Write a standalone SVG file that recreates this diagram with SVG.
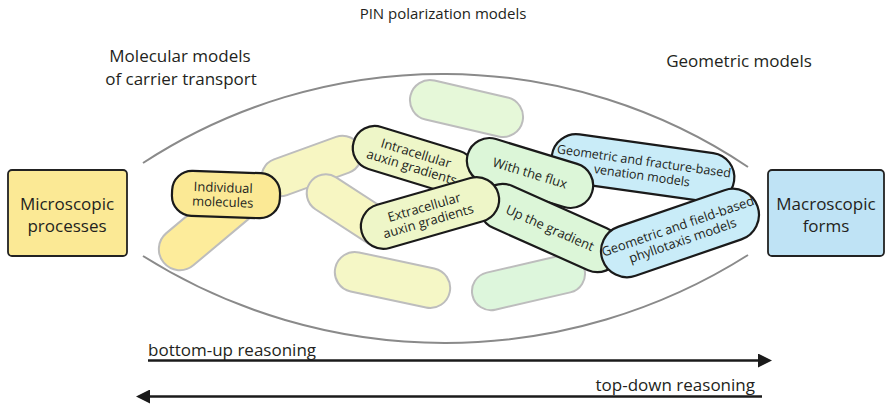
<svg xmlns="http://www.w3.org/2000/svg" width="886" height="404" viewBox="0 0 886 404">
<defs>
<style>
text{font-family:"Open Sans","Liberation Sans",Arial,sans-serif;fill:#231f20;text-anchor:middle}
.hdr{font-size:17px}
.box{stroke:#222;stroke-width:1.8}
.main{stroke:#1a1a1a;stroke-width:2.2}
.fade{stroke:#bdbdbd;stroke-width:2}
.pt{font-size:13px}
.lens{fill:none;stroke:#8a8a8a;stroke-width:2}
.arr{stroke:#1a1a1a;stroke-width:2.5;fill:none}
.y{fill:#fbe995}
.yg{fill:#eef6c8}
.g{fill:#dcf6d8}
.b{fill:#c9ecf8}
</style>
<marker id="ah" viewBox="0 0 14 14" refX="1" refY="7" markerWidth="14" markerHeight="14" markerUnits="userSpaceOnUse" orient="auto">
<path d="M0,0 L14,7 L0,14 Z" fill="#1a1a1a"/>
</marker>
</defs>
<rect width="886" height="404" fill="#fff"/>

<g id="headers">
<text x="443" y="19" style="font-size:15px">PIN polarization models</text>
<text class="hdr" x="180" y="62">Molecular models</text>
<text class="hdr" x="181" y="85">of carrier transport</text>
<text class="hdr" x="739" y="67">Geometric models</text>
</g>

<g id="lens">
<path class="lens" d="M143,163 A548,548 0 0 1 748,167"/>
<path class="lens" d="M143,256 A567,567 0 0 0 748,255"/>
</g>

<g id="background-pills">
<rect class="fade" fill="#fdec9b" x="-61" y="-21" width="122" height="42" rx="21" transform="translate(210.5,223.5) rotate(-40)"/>
<rect class="fade" fill="#f7f6c2" x="-52" y="-19" width="104" height="38" rx="19" transform="translate(311.5,166) rotate(-20)"/>
<rect class="fade" fill="#f7f6c2" x="-51.5" y="-19" width="103" height="38" rx="19" transform="translate(353,211) rotate(33)"/>
<rect class="fade" fill="#e6f8d9" x="-57.5" y="-20" width="115" height="40" rx="20" transform="translate(466.5,108.5) rotate(13)"/>
<rect class="fade" fill="#f5f7c6" x="-58.5" y="-20" width="117" height="40" rx="20" transform="translate(392.5,280) rotate(12)"/>
<rect class="fade" fill="#ddf6dc" x="-57.5" y="-19" width="115" height="38" rx="19" transform="translate(528.5,282.5) rotate(-13)"/>
</g>

<g id="microscopic">
<rect class="box y" x="8" y="170" width="119" height="86" rx="4"/>
<text class="hdr" x="67" y="210">Microscopic</text>
<text class="hdr" x="67" y="232">processes</text>
</g>

<g id="macroscopic">
<rect class="box" fill="#bfe3f5" x="768" y="170" width="116" height="86" rx="4"/>
<text class="hdr" x="826" y="210">Macroscopic</text>
<text class="hdr" x="826" y="232">forms</text>
</g>

<g id="individual" transform="translate(226,194.5) rotate(2)">
<rect class="main y" x="-54" y="-22.5" width="108" height="45" rx="20"/>
<text class="pt" x="-3" y="-2.3">Individual</text>
<text class="pt" x="-3" y="12.2">molecules</text>
</g>

<g id="intracellular" transform="translate(414,160) rotate(17)">
<rect class="main yg" x="-63" y="-22" width="126" height="44" rx="22"/>
<text class="pt" x="0" y="-2.6">Intracellular</text>
<text class="pt" x="0" y="11.9">auxin gradients</text>
</g>

<g id="venation" transform="translate(643,168) rotate(8)">
<rect class="main b" x="-92" y="-24.5" width="184" height="49" rx="24.5"/>
<text class="pt" x="0" y="-2.6" style="font-size:12.5px">Geometric and fracture-based</text>
<text class="pt" x="0" y="11.9" style="font-size:12.5px">venation models</text>
</g>

<g id="flux" transform="translate(530,173) rotate(17)">
<rect class="main g" x="-65" y="-22.5" width="130" height="45" rx="22.5"/>
<text class="pt" x="0" y="4.6">With the flux</text>
</g>

<g id="gradient" transform="translate(550,228) rotate(24)">
<rect class="main g" x="-75" y="-23" width="150" height="46" rx="23"/>
<text class="pt" x="0" y="4.6">Up the gradient</text>
</g>

<g id="extracellular" transform="translate(430,213) rotate(-16)">
<rect class="main yg" x="-71" y="-22.5" width="142" height="45" rx="22.5"/>
<text class="pt" x="-4" y="-2.6">Extracellular</text>
<text class="pt" x="-4" y="11.9">auxin gradients</text>
</g>

<g id="phyllotaxis" transform="translate(680,233) rotate(-19)">
<rect class="main b" x="-82" y="-26" width="164" height="52" rx="26"/>
<text class="pt" x="0" y="-2.6">Geometric and field-based</text>
<text class="pt" x="0" y="12.4">phyllotaxis models</text>
</g>

<g id="connectors">
<line class="arr" x1="148" y1="360.5" x2="759" y2="360.5" marker-end="url(#ah)"/>
<line class="arr" x1="762" y1="396.5" x2="149" y2="396.5" marker-end="url(#ah)"/>
</g>

<g id="arrow-labels">
<text class="hdr" x="148" y="356" style="text-anchor:start">bottom-up reasoning</text>
<text class="hdr" x="755" y="391" style="text-anchor:end">top-down reasoning</text>
</g>
</svg>
